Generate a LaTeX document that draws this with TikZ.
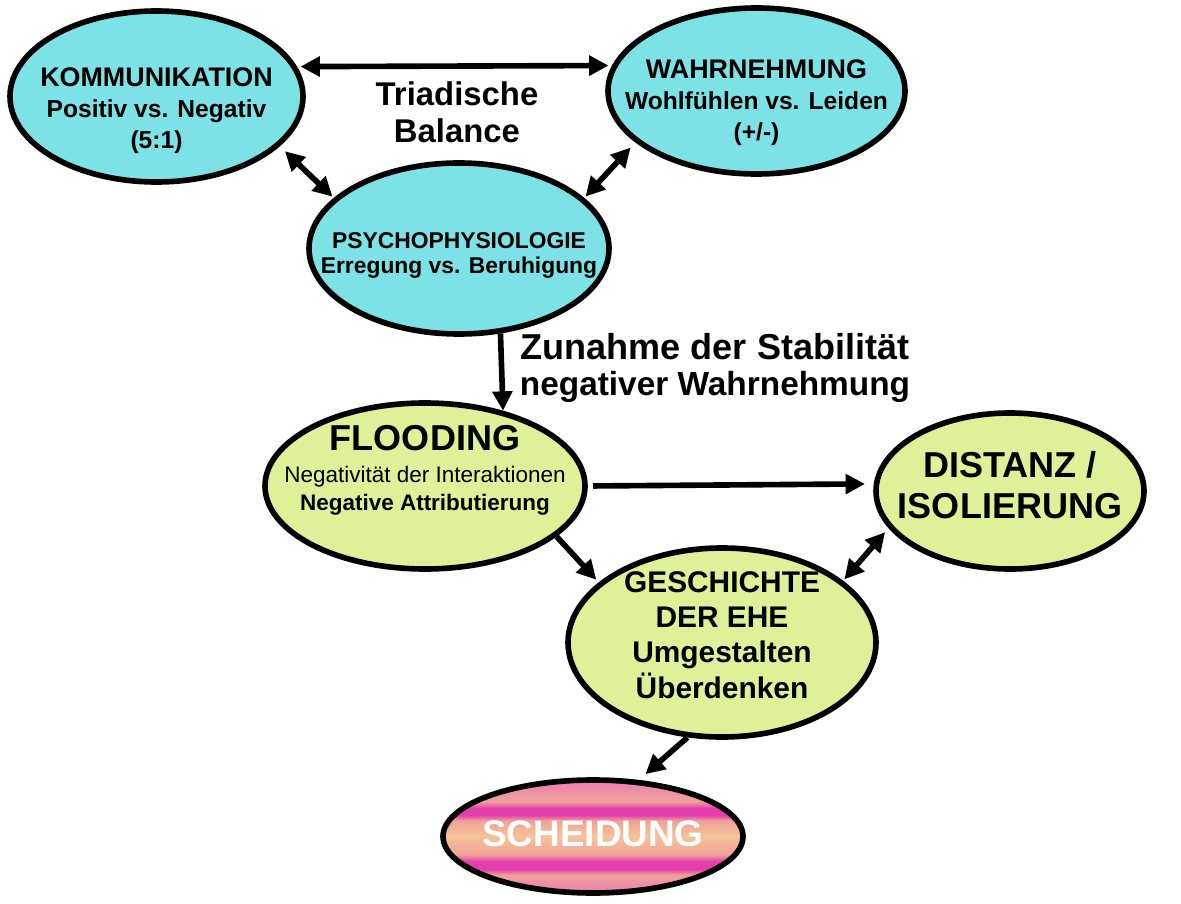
\documentclass[tikz,border=0pt]{standalone}
\usepackage{fontspec}
\setmainfont{Liberation Sans}
\usepackage{xcolor}
\usetikzlibrary{arrows.meta,shapes.geometric}
\definecolor{tuerkis}{RGB}{124,226,230}
\definecolor{gelbgruen}{RGB}{224,240,152}
\definecolor{lachs}{RGB}{240,162,152}
\definecolor{magentastreif}{RGB}{228,62,172}
\definecolor{hellorange}{RGB}{246,194,152}
\definecolor{rosa}{RGB}{236,124,182}
\pgfdeclareverticalshading{streifen}{100bp}{color(0bp)=(rosa); color(25bp)=(rosa);
 color(33bp)=(lachs); color(35.5bp)=(magentastreif); color(39bp)=(magentastreif);
 color(42bp)=(lachs); color(50bp)=(hellorange); color(57bp)=(lachs);
 color(59.5bp)=(magentastreif); color(62.5bp)=(magentastreif); color(65.5bp)=(lachs);
 color(75bp)=(rosa); color(100bp)=(rosa)}
% Text ohne Breite, damit die Ellipse ihre eigene Groesse behaelt
\newcommand{\mittig}[2][0pt]{\raisebox{#1}[0pt][0pt]{\makebox[0pt]{\begin{tabular}{@{}c@{}}#2\end{tabular}}}}

\begin{document}
\begin{tikzpicture}[
 blase/.style={ellipse, draw=black, line width=3.2pt, inner sep=0pt},
 oben/.style={blase, fill=tuerkis},
 unten/.style={blase, fill=gelbgruen},
 pfeil/.style={line width=3.2pt, -{Triangle[length=11pt,width=11pt]}},
 doppelpfeil/.style={line width=3.2pt, {Triangle[length=11pt,width=11pt]}-{Triangle[length=11pt,width=11pt]}}
]
\useasboundingbox (0,0) rectangle (23.62,-18.08);
% triadische Balance
\node[oben, minimum width=5.86cm, minimum height=3.42cm,
 font=\bfseries\fontsize{14}{17.6}\selectfont] (komm) at (3.13,-1.93)
 {\mittig[-12pt]{{\fontsize{15.3}{17.6}\selectfont KOMMUNIKATION}\\Positiv vs. Negativ\\(5:1)}};
\node[oben, minimum width=5.94cm, minimum height=3.32cm,
 font=\bfseries\fontsize{14}{17.8}\selectfont] (wahr) at (15.13,-1.82)
 {\mittig[-10.5pt]{{\fontsize{15.3}{17.8}\selectfont WAHRNEHMUNG}\\Wohlfühlen vs. Leiden\\(+/-)}};
\node[oben, minimum width=6.00cm, minimum height=3.42cm,
 font=\bfseries\fontsize{13}{13.8}\selectfont] (psycho) at (9.18,-4.97)
 {\mittig[-7.3pt]{PSYCHOPHYSIOLOGIE\\Erregung vs. Beruhigung}};
\node[font=\bfseries\fontsize{18.7}{21}\selectfont, align=center] (balance) at (9.14,-2.24)
 {Triadische\\Balance};
\draw[doppelpfeil, shorten <=2pt, shorten >=2pt] (komm.12) -- (wahr.170.5);
\draw[doppelpfeil, shorten <=4pt, shorten >=1pt] (komm.-22) -- (psycho.158);
\draw[doppelpfeil, shorten <=4pt, shorten >=1pt] (wahr.-157) -- (psycho.22);
% Flooding und Folgen
\node[unten, minimum width=6.40cm, minimum height=3.32cm,
 font=\fontsize{12.8}{16}\selectfont] (flood) at (8.50,-9.72)
 {\mittig[4.8pt]{{\bfseries\fontsize{20.5}{16}\selectfont FLOODING}\\[2pt]Negativität der Interaktionen\\{\bfseries Negative Attributierung}}};
\node[unten, minimum width=5.36cm, minimum height=3.12cm,
 font=\bfseries\fontsize{20.5}{23}\selectfont] (distanz) at (20.20,-9.82)
 {\mittig[-4.5pt]{DISTANZ /\\ISOLIERUNG}};
\node[unten, minimum width=6.16cm, minimum height=3.78cm,
 font=\bfseries\fontsize{17}{19.8}\selectfont] (gesch) at (14.44,-12.85)
 {\mittig[-2pt]{GESCHICHTE\\DER EHE\\Umgestalten\\Überdenken}};
\node[blase, shading=streifen, minimum width=6.00cm, minimum height=2.26cm,
 text=white, font=\bfseries\fontsize{21}{24}\selectfont] (scheid) at (11.86,-16.73)
 {\mittig[-6.3pt]{SCHEIDUNG}};
\node[font=\bfseries\fontsize{20.5}{21}\selectfont, align=center] (zunahme) at (14.30,-7.36)
 {Zunahme der Stabilität\\{\fontsize{19}{21}\selectfont negativer Wahrnehmung}};
\draw[pfeil] (psycho.-64) -- (flood.44.5);
\draw[pfeil, shorten <=3pt, shorten >=5pt] (flood.0) -- (distanz.177.7);
\draw[pfeil, shorten >=2pt] (flood.-21) -- (gesch.154);
\draw[doppelpfeil, shorten <=3pt, shorten >=1pt] (distanz.-163) -- (gesch.27);
\draw[pfeil, shorten >=5pt] (gesch.-110) -- (scheid.51);
\end{tikzpicture}
\end{document}
